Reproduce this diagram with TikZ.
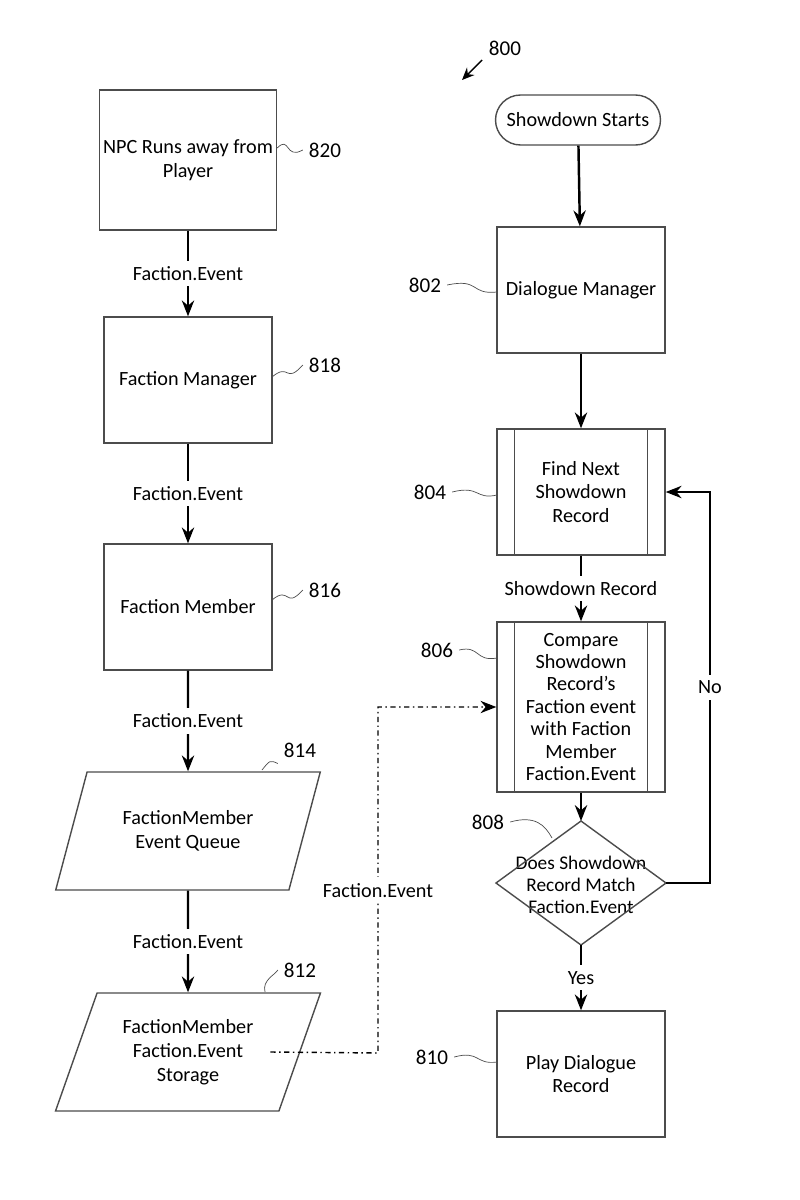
\documentclass[tikz,border=0pt]{standalone}
\usepackage{fontspec}
\setmainfont{Carlito}
\usetikzlibrary{shapes.geometric,arrows.meta,positioning,calc}
\tikzset{
  box/.style={draw=black!70,thick,minimum width=3.36cm,minimum height=2.52cm,inner xsep=2pt,align=center,font=\fontsize{11.5}{13.5}\selectfont},
  para/.style={draw=black!70,thick,trapezium,trapezium left angle=67,trapezium right angle=113,trapezium stretches=true,minimum width=5.3cm,minimum height=2.36cm,align=center,font=\fontsize{11.5}{13.5}\selectfont},
  flow/.style={-{Stealth[length=9pt,width=7pt]},line width=1.4pt},
  lbl/.style={font=\fontsize{11.5}{14}\selectfont},
  refn/.style={font=\fontsize{12}{14}\selectfont},
}
\begin{document}
\begin{tikzpicture}[x=0.02cm,y=-0.02cm]
\useasboundingbox (0,0) rectangle (800,1200);
% left column
\node[box,minimum height=2.8cm] (n820) at (188,160) {NPC Runs away from\\Player};
\node[box] (n818) at (188,380) {Faction Manager};
\node[box] (n816) at (188,607) {Faction Member};
\node[para] (n814) at (188,831) {FactionMember\\Event Queue};
\node[para] (n812) at (188,1052) {FactionMember\\Faction.Event\\Storage};
\draw[flow] (n820) -- node[fill=white,lbl]{Faction.Event} (n818);
\draw[flow] (n818) -- node[fill=white,lbl]{Faction.Event} (n816);
\draw[flow] (n816) -- node[fill=white,lbl]{Faction.Event} (n814);
\draw[flow] (n814) -- node[fill=white,lbl]{Faction.Event} (n812);
% right column
\node[draw=black!70,thick,rounded corners=0.5cm,minimum width=3.3cm,minimum height=1cm,font=\fontsize{11.5}{14}\selectfont] (start) at (578,120) {Showdown Starts};
\node[box] (n802) at (581,290) {Dialogue Manager};
\node[box] (n804) at (581,492) {Find Next\\Showdown\\Record};
\node[box,minimum height=3.4cm,font=\fontsize{11.5}{12.8}\selectfont] (n806) at (581,707) {Compare\\Showdown\\Record's\\Faction event\\with Faction\\Member\\Faction.Event};
\node[align=center,font=\fontsize{11}{12.5}\selectfont] (n808) at (581,885) {Does Showdown\\Record Match\\Faction.Event};
\coordinate (d808n) at (581,821);
\coordinate (d808s) at (581,945);
\coordinate (d808e) at (666,883);
\coordinate (d808w) at (496,883);
\draw[black!70,thick] (d808n) -- (d808e) -- (d808s) -- (d808w) -- cycle;
\node[box] (n810) at (581,1074) {Play Dialogue\\Record};
\foreach \n in {n804,n806}{
  \draw[black!70,thick] ([xshift=0.36cm]\n.north west) -- ([xshift=0.36cm]\n.south west);
  \draw[black!70,thick] ([xshift=-0.36cm]\n.north east) -- ([xshift=-0.36cm]\n.south east);
}
\draw[flow] (start) -- (n802);
\draw[flow] (n802) -- (n804);
\draw[flow] (n804) -- node[fill=white,lbl]{Showdown Record} (n806);
\draw[flow] (n806) -- (d808n);
\draw[flow] (d808s) -- node[fill=white,lbl]{Yes} (n810);
\coordinate (noc) at (710,883);
\draw[flow] (d808e) -- (noc) -- node[fill=white,lbl]{No} (noc |- n804.east) -- (n804.east);
% dash-dot link
\coordinate (dd) at (378,1053);
\draw[-{Stealth[length=9pt,width=7pt]},thick,dash dot] ([xshift=-0.6cm]n812.east) -- (dd) -- node[fill=white,lbl,pos=0.47]{Faction.Event} (dd |- n806.west) -- (n806.west);
% reference numbers
\node[refn] (r820) at (325,150) {820};
\draw[black!70] (n820.east |- 0,148) .. controls (290,135) and (285,160) .. (r820.west);
\node[refn] (r818) at (325,365) {818};
\draw[black!70] (272,377) .. controls (290,362) and (285,385) .. (r818.west);
\node[refn] (r816) at (325,590) {816};
\draw[black!70] (272,600) .. controls (290,585) and (285,610) .. (r816.west);
\node[refn] (r814) at (300,750) {814};
\draw[black!70] (262,770) .. controls (270,760) .. (r814.south west);
\node[refn] (r812) at (300,970) {812};
\draw[black!70] (265,992) .. controls (262,980) and (275,975) .. (r812.west);
\node[refn] (r802) at (425,285) {802};
\draw[black!70] (r802.east) .. controls (480,278) and (470,295) .. (497,292);
\node[refn] (r804) at (430,492) {804};
\draw[black!70] (r804.east) .. controls (480,485) and (475,500) .. (497,495);
\node[refn] (r806) at (437,650) {806};
\draw[black!70] (r806.east) .. controls (480,645) and (475,662) .. (497,658);
\node[refn] (r808) at (488,822) {808};
\draw[black!70] (r808.east) .. controls (535,815) and (545,825) .. (552,838);
\node[refn] (r810) at (432,1057) {810};
\draw[black!70] (r810.east) .. controls (480,1050) and (475,1065) .. (497,1062);
\node[refn] (r800) at (505,48) {800};
\draw[-{Stealth[length=7pt,width=6pt]},thick] (482,60) -- (462,80);
\end{tikzpicture}
\end{document}
